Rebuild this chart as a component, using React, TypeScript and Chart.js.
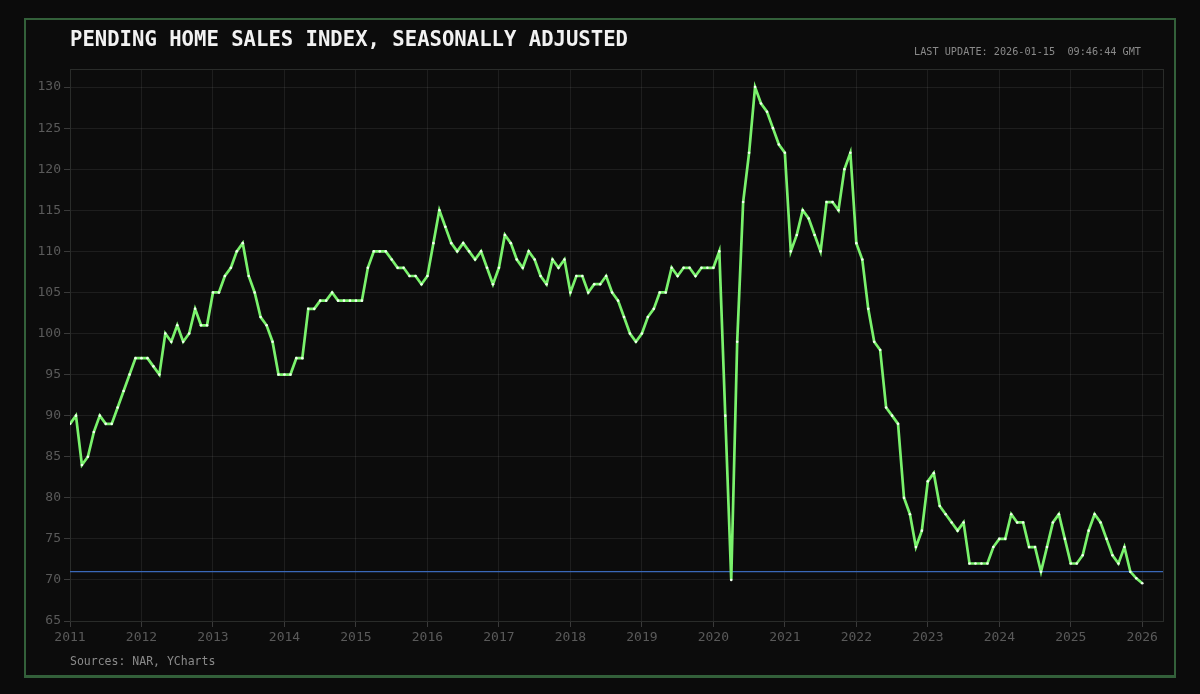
import React, { useEffect, useRef } from "react";
import { Chart, registerables } from "chart.js";

Chart.register(...registerables);

// Monthly Pending Home Sales Index, seasonally adjusted (Jan 2011 .. Jan 2026)
const START_YEAR = 2011;
const pendingIndex: number[] = [
  // 2011
  89, 90, 84, 85, 88, 90, 89, 89, 91, 93, 95, 97,
  // 2012
  97, 97, 96, 95, 100, 99, 101, 99, 100, 103, 101, 101,
  // 2013
  105, 105, 107, 108, 110, 111, 107, 105, 102, 101, 99, 95,
  // 2014
  95, 95, 97, 97, 103, 103, 104, 104, 105, 104, 104, 104,
  // 2015
  104, 104, 108, 110, 110, 110, 109, 108, 108, 107, 107, 106,
  // 2016
  107, 111, 115, 113, 111, 110, 111, 110, 109, 110, 108, 106,
  // 2017
  108, 112, 111, 109, 108, 110, 109, 107, 106, 109, 108, 109,
  // 2018
  105, 107, 107, 105, 106, 106, 107, 105, 104, 102, 100, 99,
  // 2019
  100, 102, 103, 105, 105, 108, 107, 108, 108, 107, 108, 108,
  // 2020
  108, 110, 90, 70, 99, 116, 122, 130, 128, 127, 125, 123,
  // 2021
  122, 110, 112, 115, 114, 112, 110, 116, 116, 115, 120, 122,
  // 2022
  111, 109, 103, 99, 98, 91, 90, 89, 80, 78, 74, 76,
  // 2023
  82, 83, 79, 78, 77, 76, 77, 72, 72, 72, 72, 74,
  // 2024
  75, 75, 78, 77, 77, 74, 74, 71, 74, 77, 78, 75,
  // 2025
  72, 72, 73, 76, 78, 77, 75, 73, 72, 74, 71, 70.2,
  // 2026
  69.6,
];

const referenceLevel = 71;
const xMin = 2011;
const xMax = 2026.29;
const yMin = 65;
const yMax = 132.2;
const yStep = 5;
const xStep = 1;

const TITLE = "PENDING HOME SALES INDEX, SEASONALLY ADJUSTED";
const LAST_UPDATE = "LAST UPDATE: 2026-01-15\u00a0\u00a009:46:44 GMT";
const SOURCES = "Sources: NAR, YCharts";

const MONO = '"DejaVu Sans Mono", "Liberation Mono", monospace';

const framePlugin = {
  id: "plotFrame",
  beforeDatasetsDraw(chart: any) {
    const { ctx, chartArea } = chart;
    ctx.save();
    ctx.strokeStyle = "#2a2c2a";
    ctx.lineWidth = 1;
    ctx.strokeRect(
      Math.round(chartArea.left) + 0.5,
      Math.round(chartArea.top) + 0.5,
      Math.round(chartArea.right - chartArea.left),
      Math.round(chartArea.bottom - chartArea.top)
    );
    ctx.restore();
  },
};

export default function App() {
  const canvasRef = useRef<HTMLCanvasElement | null>(null);

  useEffect(() => {
    if (!canvasRef.current) return;
    const points = pendingIndex.map((v, i) => ({
      x: START_YEAR + i / 12,
      y: v,
    }));
    const refLine = [
      { x: xMin, y: referenceLevel },
      { x: xMax, y: referenceLevel },
    ];
    const tickFont = { family: MONO, size: 13 };
    const chart = new Chart(canvasRef.current, {
      type: "line",
      data: {
        datasets: [
          {
            data: points,
            borderColor: "#7af26c",
            borderWidth: 2.7,
            pointRadius: 1.3,
            pointBackgroundColor: "#f2fff0",
            pointBorderWidth: 0,
            pointHoverRadius: 0,
            tension: 0,
            order: 0,
          },
          {
            data: refLine,
            borderColor: "#3a68b8",
            borderWidth: 1.2,
            pointRadius: 0,
            pointHoverRadius: 0,
            order: 1,
          },
        ],
      },
      options: {
        animation: false,
        responsive: false,
        maintainAspectRatio: false,
        layout: { padding: { left: 0, right: 37, top: 69, bottom: 0 } },
        plugins: {
          legend: { display: false },
          tooltip: { enabled: false },
          title: { display: false },
        },
        scales: {
          x: {
            type: "linear",
            min: xMin,
            max: xMax,
            grid: {
              color: "rgba(255,255,255,0.075)",
              tickColor: "#3a3a3a",
              tickLength: 6,
              drawTicks: true,
            },
            border: { color: "#2b3a2b" },
            ticks: {
              stepSize: xStep,
              includeBounds: false,
              autoSkip: false,
              maxRotation: 0,
              color: "#5a5a5a",
              font: tickFont,
              padding: 3,
              callback: (v: any) => String(v),
            },
            afterFit: (s: any) => {
              s.height = 73;
            },
          },
          y: {
            type: "linear",
            min: yMin,
            max: yMax,
            grid: {
              color: "rgba(255,255,255,0.075)",
              tickColor: "#3a3a3a",
              tickLength: 6,
              drawTicks: true,
            },
            border: { color: "#2a2c2a" },
            ticks: {
              stepSize: yStep,
              includeBounds: false,
              color: "#5a5a5a",
              font: tickFont,
              padding: 3,
              callback: (v: any) => String(v),
            },
            afterFit: (s: any) => {
              s.width = 70;
            },
          },
        },
      },
      plugins: [framePlugin],
    } as any);
    return () => chart.destroy();
  }, []);

  return (
    <div
      style={{
        position: "fixed",
        left: 0,
        top: 0,
        width: 1200,
        height: 694,
        background: "#0b0b0b",
        overflow: "hidden",
      }}
    >
      <div
        style={{
          position: "absolute",
          left: 24,
          top: 18,
          width: 1148,
          height: 655,
          border: "2px solid #33603a",
          borderBottomWidth: 3,
          background: "#0c0c0c",
        }}
      />
      <canvas
        ref={canvasRef}
        width={1200}
        height={694}
        style={{ position: "absolute", left: 0, top: 0, width: 1200, height: 694 }}
      />
      <div
        style={{
          position: "absolute",
          left: 70,
          top: 27,
          fontFamily: MONO,
          fontWeight: "bold",
          fontSize: 20.6,
          lineHeight: "24px",
          color: "#f2f2f2",
          whiteSpace: "nowrap",
        }}
      >
        {TITLE}
      </div>
      <div
        style={{
          position: "absolute",
          right: 59,
          top: 46,
          fontFamily: MONO,
          fontSize: 10.2,
          lineHeight: "12px",
          color: "#8a8a8a",
          whiteSpace: "nowrap",
        }}
      >
        {LAST_UPDATE}
      </div>
      <div
        style={{
          position: "absolute",
          left: 70,
          top: 654,
          fontFamily: MONO,
          fontSize: 11.5,
          lineHeight: "14px",
          color: "#8a8a8a",
          whiteSpace: "nowrap",
        }}
      >
        {SOURCES}
      </div>
    </div>
  );
}
